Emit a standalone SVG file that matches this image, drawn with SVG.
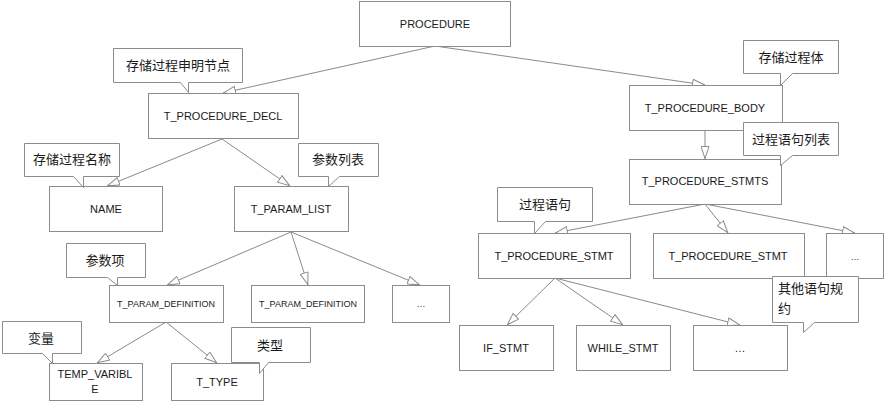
<svg xmlns="http://www.w3.org/2000/svg" width="885" height="405" viewBox="0 0 885 405">
<style>
.box{fill:#fff;stroke:#8c8c8c;stroke-width:1}
.call{fill:#fff;stroke:#8c8c8c;stroke-width:1}
.edge{fill:none;stroke:#8a8a8a;stroke-width:1;marker-end:url(#arr)}
text{font-family:"Liberation Sans","Noto Sans CJK SC",sans-serif;fill:#1a1a1a;text-anchor:middle}
.t{font-size:11px}
.s{font-size:9px}
.c{font-family:"Noto Sans CJK SC",sans-serif;font-size:13px}
</style>
<defs>
<marker id="arr" viewBox="0 0 13 9" refX="13" refY="4.5" markerWidth="13" markerHeight="9" markerUnits="userSpaceOnUse" orient="auto">
<path d="M0.5,0.5 L12.5,4.5 L0.5,8.5 Z" fill="#fff" stroke="#8a8a8a" stroke-width="1"/>
</marker>
</defs>
<rect width="885" height="405" fill="#fff"/>
<g id="connectors">
<line class="edge" x1="435" y1="46" x2="223" y2="93"/>
<line class="edge" x1="435" y1="46" x2="705" y2="85"/>
<line class="edge" x1="222" y1="139" x2="107" y2="186"/>
<line class="edge" x1="222" y1="139" x2="290" y2="186"/>
<line class="edge" x1="291" y1="232" x2="167" y2="285"/>
<line class="edge" x1="291" y1="232" x2="308" y2="285"/>
<line class="edge" x1="291" y1="232" x2="420" y2="285"/>
<line class="edge" x1="166" y1="322" x2="97" y2="363"/>
<line class="edge" x1="166" y1="322" x2="217" y2="363"/>
<line class="edge" x1="705" y1="130" x2="705" y2="159"/>
<line class="edge" x1="705" y1="204" x2="555" y2="233"/>
<line class="edge" x1="705" y1="204" x2="728" y2="233"/>
<line class="edge" x1="705" y1="204" x2="855" y2="233"/>
<line class="edge" x1="555" y1="278" x2="507" y2="325"/>
<line class="edge" x1="555" y1="278" x2="623" y2="325"/>
<line class="edge" x1="555" y1="278" x2="740" y2="325"/>
</g>
<g id="procedure"><rect class="box" x="359.5" y="1.5" width="151" height="45"/><text class="t" x="435" y="28">PROCEDURE</text></g>
<g id="t_procedure_decl"><rect class="box" x="148.5" y="93.5" width="150" height="45"/><text class="t" x="223" y="120">T_PROCEDURE_DECL</text></g>
<g id="t_procedure_body"><rect class="box" x="629.5" y="85.5" width="153" height="45"/><text class="t" x="705" y="112">T_PROCEDURE_BODY</text></g>
<g id="name"><rect class="box" x="49.5" y="186.5" width="113" height="45"/><text class="t" x="106" y="213">NAME</text></g>
<g id="t_param_list"><rect class="box" x="234.5" y="186.5" width="114" height="45"/><text class="t" x="291" y="213">T_PARAM_LIST</text></g>
<g id="t_param_definition_1"><rect class="box" x="109.5" y="285.5" width="114" height="37"/><text class="s" x="166" y="307">T_PARAM_DEFINITION</text></g>
<g id="t_param_definition_2"><rect class="box" x="251.5" y="285.5" width="113" height="37"/><text class="s" x="308" y="307">T_PARAM_DEFINITION</text></g>
<g id="param_more"><rect class="box" x="392.5" y="285.5" width="57" height="37"/><text class="s" x="421" y="307">…</text></g>
<g id="temp_varible"><rect class="box" x="49.5" y="363.5" width="93" height="37"/><text class="t" x="95" y="378">TEMP_VARIBL</text><text class="t" x="95" y="393">E</text></g>
<g id="t_type"><rect class="box" x="171.5" y="363.5" width="92" height="37"/><text class="t" x="217" y="386">T_TYPE</text></g>
<g id="t_procedure_stmts"><rect class="box" x="629.5" y="159.5" width="152" height="45"/><text class="t" x="705" y="185">T_PROCEDURE_STMTS</text></g>
<g id="t_procedure_stmt_1"><rect class="box" x="478.5" y="233.5" width="152" height="45"/><text class="t" x="554" y="260">T_PROCEDURE_STMT</text></g>
<g id="t_procedure_stmt_2"><rect class="box" x="653.5" y="233.5" width="151" height="45"/><text class="t" x="728" y="260">T_PROCEDURE_STMT</text></g>
<g id="stmt_more"><rect class="box" x="826.5" y="233.5" width="57" height="45"/><text class="s" x="855" y="260">…</text></g>
<g id="if_stmt"><rect class="box" x="459.5" y="325.5" width="94" height="45"/><text class="t" x="506" y="352">IF_STMT</text></g>
<g id="while_stmt"><rect class="box" x="576.5" y="325.5" width="94" height="45"/><text class="t" x="623" y="352">WHILE_STMT</text></g>
<g id="stmt_if_more"><rect class="box" x="693.5" y="325.5" width="94" height="45"/><text class="t" x="740" y="352">…</text></g>
<g id="note_decl"><path class="call" d="M113.5,48.5 H242.5 V82.5 H188.5 V92.5 L180.5,82.5 H113.5 Z"/><text class="c" x="178" y="70">存储过程申明节点</text></g>
<g id="note_body"><path class="call" d="M743.5,40.5 H838.5 V73.5 H792.5 L780.5,85.5 V73.5 H743.5 Z"/><text class="c" x="791" y="62">存储过程体</text></g>
<g id="note_stmts"><path class="call" d="M743.5,122.5 H838.5 V155.5 H792.5 L780.5,165.5 V155.5 H743.5 Z"/><text class="c" x="791" y="144">过程语句列表</text></g>
<g id="note_stmt"><path class="call" d="M497.5,187.5 H592.5 V221.5 H545.5 L534.5,233.5 V221.5 H497.5 Z"/><text class="c" x="545" y="209">过程语句</text></g>
<g id="note_other"><path class="call" d="M772.5,276.5 H858.5 V322.5 H814.5 L803.5,332.5 V322.5 H772.5 Z"/><text class="c" x="778" y="293" style="text-anchor:start">其他语句规</text><text class="c" x="778" y="313" style="text-anchor:start">约</text></g>
<g id="note_name"><path class="call" d="M24.5,143.5 H119.5 V176.5 H83.5 V187.5 L73.5,176.5 H24.5 Z"/><text class="c" x="72" y="164">存储过程名称</text></g>
<g id="note_list"><path class="call" d="M298.5,143.5 H378.5 V176.5 H339.5 L328.5,186.5 V176.5 H298.5 Z"/><text class="c" x="338" y="164">参数列表</text></g>
<g id="note_param"><path class="call" d="M66.5,243.5 H145.5 V277.5 H117.5 V285.5 L107.5,277.5 H66.5 Z"/><text class="c" x="105" y="265">参数项</text></g>
<g id="note_var"><path class="call" d="M2.5,321.5 H81.5 V353.5 H52.5 V363.5 L42.5,353.5 H2.5 Z"/><text class="c" x="41" y="343">变量</text></g>
<g id="note_type"><path class="call" d="M231.5,327.5 H310.5 V362.5 H268.5 L259.5,373.5 V362.5 H231.5 Z"/><text class="c" x="270" y="350">类型</text></g>
</svg>
